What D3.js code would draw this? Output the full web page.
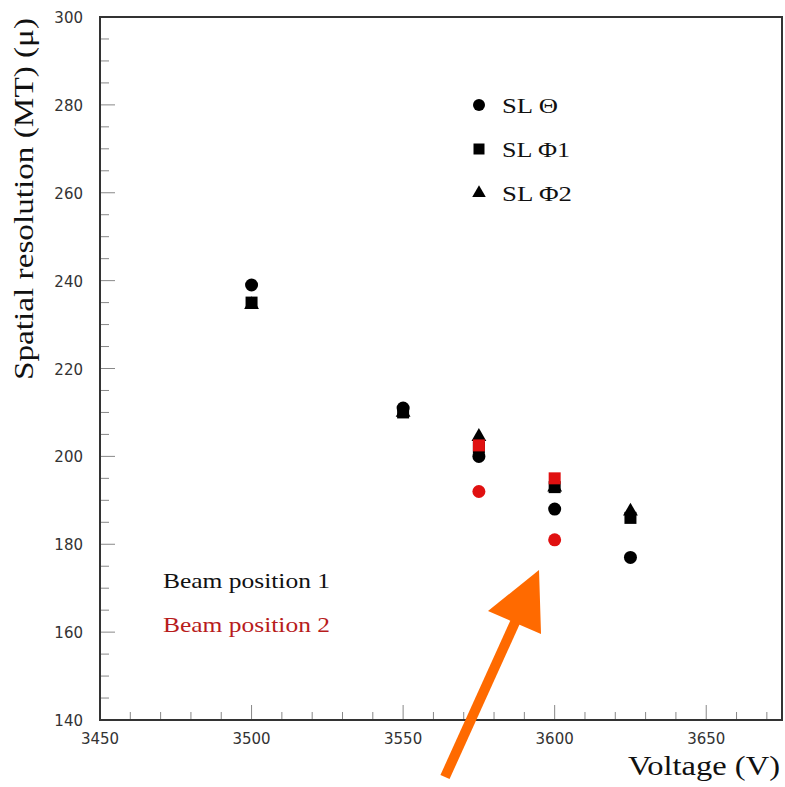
<!DOCTYPE html>
<html>
<head>
<meta charset="utf-8">
<script src="https://cdn.jsdelivr.net/npm/d3@7/dist/d3.min.js"></script>
<style>
  html, body { margin: 0; padding: 0; background: #fff; }
  svg { display: block; }
</style>
</head>
<body>
<svg id="chart" width="785" height="787"></svg>
<script>
// Spatial resolution vs. high voltage for the three superlayers
const voltages = [3500, 3550, 3575, 3600, 3625];

// Beam position 1 (black)
const beam1Theta = [239, 211, 200, 188, 177];
const beam1Phi1  = [235, 210, 202, 193, 186];
const beam1Phi2  = [234.5, 210, 204.5, 193, 187.5];

// Beam position 2 (red), measured at two voltages only
const beam2Voltages = [3575, 3600];
const beam2Theta = [192, 181];
const beam2Phi1  = [202.5, 195];

const xTicks = [3450, 3500, 3550, 3600, 3650];
const yTicks = [140, 160, 180, 200, 220, 240, 260, 280, 300];

const legendLabels = ["SL \u0398", "SL \u03A61", "SL \u03A62"];
const beamLabels = ["Beam position 1", "Beam position 2"];

const svg = d3.select("#chart");
const plotLeft = 100, plotRight = 782, plotTop = 17, plotBottom = 720;

const x = d3.scaleLinear().domain([3450, 3675]).range([plotLeft, plotRight]);
const y = d3.scaleLinear().domain([140, 300]).range([plotBottom, plotTop]);

const serif = "'Liberation Serif', 'Times New Roman', serif";
const sans = "'DejaVu Sans', Verdana, sans-serif";

// Inward ticks on left axis
const yMinor = d3.range(140, 301, 5);
svg.append("g").selectAll("line").data(yMinor).join("line")
  .attr("x1", plotLeft).attr("x2", d => plotLeft + (d % 20 === 0 ? 15 : 9))
  .attr("y1", d => y(d)).attr("y2", d => y(d))
  .attr("stroke", "#888").attr("stroke-width", 1);

// Inward ticks on bottom axis
const xMinor = d3.range(3450, 3676, 10);
svg.append("g").selectAll("line").data(xMinor).join("line")
  .attr("x1", d => x(d)).attr("x2", d => x(d))
  .attr("y1", plotBottom).attr("y2", d => plotBottom - (d % 50 === 0 ? 15 : 8))
  .attr("stroke", "#888").attr("stroke-width", 1);

// Frame
svg.append("rect")
  .attr("x", plotLeft).attr("y", plotTop)
  .attr("width", plotRight - plotLeft).attr("height", plotBottom - plotTop)
  .attr("fill", "none").attr("stroke", "#333").attr("stroke-width", 2);

// Tick labels
svg.append("g").selectAll("text").data(yTicks).join("text")
  .attr("x", 83).attr("y", d => y(d) + 6)
  .attr("text-anchor", "end")
  .attr("font-family", sans).attr("font-size", 15).attr("fill", "#333")
  .text(d => d);

svg.append("g").selectAll("text").data(xTicks).join("text")
  .attr("x", d => x(d)).attr("y", 744)
  .attr("text-anchor", "middle")
  .attr("font-family", sans).attr("font-size", 15).attr("fill", "#333")
  .text(d => d);

// Axis titles
svg.append("text")
  .attr("transform", "translate(33,380) rotate(-90)")
  .attr("font-family", serif).attr("font-size", 27).attr("fill", "#111")
  .attr("textLength", 362).attr("lengthAdjust", "spacingAndGlyphs")
  .text("Spatial resolution (MT) (\u03BC)");

svg.append("text")
  .attr("x", 628).attr("y", 775)
  .attr("font-family", serif).attr("font-size", 28).attr("fill", "#111")
  .attr("textLength", 152).attr("lengthAdjust", "spacingAndGlyphs")
  .text("Voltage (V)");

// Marker shapes
const sym = {
  circle: d3.symbol().type(d3.symbolCircle).size(Math.PI * 6.5 * 6.5),
  square: d3.symbol().type(d3.symbolSquare).size(12 * 12),
  triangle: d3.symbol().type(d3.symbolTriangle).size(95)
};

function plotSeries(xs, ys, shape, color) {
  svg.append("g").selectAll("path").data(ys).join("path")
    .attr("d", sym[shape])
    .attr("transform", (d, i) => `translate(${x(xs[i])},${y(d)})`)
    .attr("fill", color);
}

const black = "#000";
const red = "#e01010";

plotSeries(voltages, beam1Phi2, "triangle", black);
plotSeries(voltages, beam1Phi1, "square", black);
plotSeries(voltages, beam1Theta, "circle", black);
plotSeries(beam2Voltages, beam2Phi1, "square", red);
plotSeries(beam2Voltages, beam2Theta, "circle", red);

// Symbol legend
const legendShapes = ["circle", "square", "triangle"];
const legendLen = [56, 68, 70];
const legendSym = {
  circle: d3.symbol().type(d3.symbolCircle).size(Math.PI * 6 * 6),
  square: d3.symbol().type(d3.symbolSquare).size(11 * 11),
  triangle: d3.symbol().type(d3.symbolTriangle).size(80)
};
legendShapes.forEach((s, i) => {
  const cy = 105 + i * 44;
  svg.append("path").attr("d", legendSym[s])
    .attr("transform", `translate(479,${cy})`).attr("fill", black);
  svg.append("text")
    .attr("x", 502).attr("y", cy + 8)
    .attr("font-family", serif).attr("font-size", 22).attr("fill", "#111")
    .attr("textLength", legendLen[i]).attr("lengthAdjust", "spacingAndGlyphs")
    .text(legendLabels[i]);
});

// Beam position labels
const beamColors = ["#111", "#b81c1c"];
beamLabels.forEach((t, i) => {
  svg.append("text")
    .attr("x", 163).attr("y", 588 + i * 44)
    .attr("font-family", serif).attr("font-size", 22).attr("fill", beamColors[i])
    .attr("textLength", 167).attr("lengthAdjust", "spacingAndGlyphs")
    .text(t);
});

// Orange pointer arrow
const orange = "#ff6a00";
svg.append("line")
  .attr("x1", 445).attr("y1", 777).attr("x2", 517).attr("y2", 618)
  .attr("stroke", orange).attr("stroke-width", 10);
svg.append("polygon")
  .attr("points", "539,570 488,611 541,634")
  .attr("fill", orange);
</script>
</body>
</html>
